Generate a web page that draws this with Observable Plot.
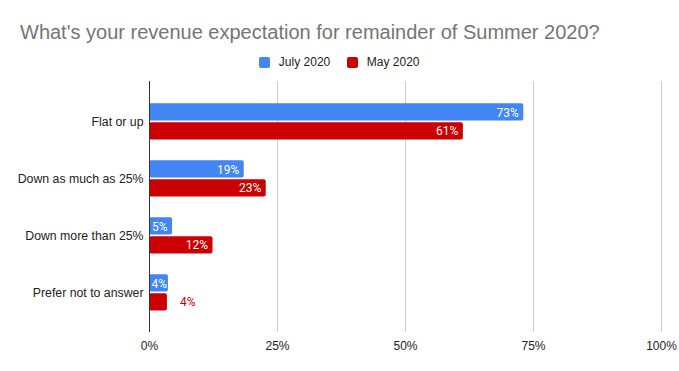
<!DOCTYPE html>
<html><head><meta charset="utf-8">
<script src="https://cdn.jsdelivr.net/npm/d3@7"></script>
<script src="https://cdn.jsdelivr.net/npm/@observablehq/plot@0.6"></script>
<style>
body{margin:0;background:#fff;font-family:"Liberation Sans",Arial,sans-serif;}
#title{padding:21.5px 0 0 20px;font-size:20px;line-height:20px;height:20px;color:#757575;white-space:nowrap;}
#legend{margin-top:14.5px;height:12px;display:flex;justify-content:center;align-items:center;font-size:12px;line-height:12px;color:#222;}
.item{display:flex;align-items:center;margin:0 8.6px;}
.sw{width:11px;height:11px;border-radius:2px;margin-right:8.4px;}
#chart svg{display:block;}
</style></head><body>
<div id="title"></div>
<div id="legend"></div>
<div id="chart"></div>
<script>
const title = "What's your revenue expectation for remainder of Summer 2020?";
const categories = ["Flat or up", "Down as much as 25%", "Down more than 25%", "Prefer not to answer"];
const seriesNames = ["July 2020", "May 2020"];
const seriesColors = ["#4285f4", "#cc0000"];
const july = [73.1, 18.5, 4.5, 3.7];
const may = [61.3, 22.8, 12.4, 3.5];
const xTicks = [0, 25, 50, 75, 100];

document.getElementById("title").textContent = title;
const legend = document.getElementById("legend");
seriesNames.forEach((n, i) => {
  const item = document.createElement("div");
  item.className = "item";
  const sw = document.createElement("div");
  sw.className = "sw";
  sw.style.background = seriesColors[i];
  const t = document.createElement("span");
  t.textContent = n;
  item.appendChild(sw); item.appendChild(t);
  legend.appendChild(item);
});

const rows = categories.map((c, i) => ({category: c, july: july[i], may: may[i]}));
const labels = categories.flatMap((c, i) => [
  {category: c, series: 0, v: july[i]},
  {category: c, series: 1, v: may[i]}
]);
const fmt = v => Math.round(v) + "%";
const dys = [-9.3, 9.5];

const textMarks = [0, 1].flatMap(s => [
  Plot.text(labels.filter(d => d.series === s && d.v >= 4.5), {
    y: "category", x: "v", text: d => fmt(d.v), textAnchor: "end", dx: -5, dy: dys[s],
    fill: "#fff", fontFamily: "Roboto", fontSize: 12
  }),
  Plot.text(labels.filter(d => d.series === s && d.v >= 3.6 && d.v < 4.5), {
    y: "category", x: () => 0, text: d => fmt(d.v), textAnchor: "start", dx: 2, dy: dys[s],
    fill: "#fff", fontFamily: "Roboto", fontSize: 12
  }),
  Plot.text(labels.filter(d => d.series === s && d.v < 3.6), {
    y: "category", x: "v", text: d => fmt(d.v), textAnchor: "start", dx: 12.7, dy: dys[s],
    fill: seriesColors[s], fontFamily: "Roboto", fontSize: 12
  })
]);

const chart = Plot.plot({
  width: 679,
  height: 303,
  marginTop: 13,
  marginBottom: 39,
  marginLeft: 149,
  marginRight: 18,
  style: {fontFamily: "'Liberation Sans', Arial, sans-serif", fontSize: "12px", color: "#222", background: "#fff"},
  x: {domain: [0, 100]},
  y: {domain: categories, paddingInner: 0, paddingOuter: 0.168},
  marks: [
    Plot.ruleX(xTicks.slice(1), {stroke: "#cccccc", strokeWidth: 1}),
    Plot.barX(rows, {y: "category", x1: () => 0, x2: "july", fill: seriesColors[0], insetTop: 10.3, insetBottom: 29.5, rx: 2}),
    Plot.barX(rows, {y: "category", x1: () => 0, x2: "may", fill: seriesColors[1], insetTop: 29.3, insetBottom: 10.6, rx: 2}),
    Plot.ruleX([0], {stroke: "#333", strokeWidth: 1}),
    ...textMarks,
    Plot.axisX({ticks: xTicks, tickFormat: d => d + "%", tickSize: 0, tickPadding: 9, label: null, fill: "#222"}),
    Plot.axisY({tickSize: 0, tickPadding: 6, label: null, fill: "#222", fontSize: 12.3})
  ]
});
document.getElementById("chart").appendChild(chart);
</script>
</body></html>
